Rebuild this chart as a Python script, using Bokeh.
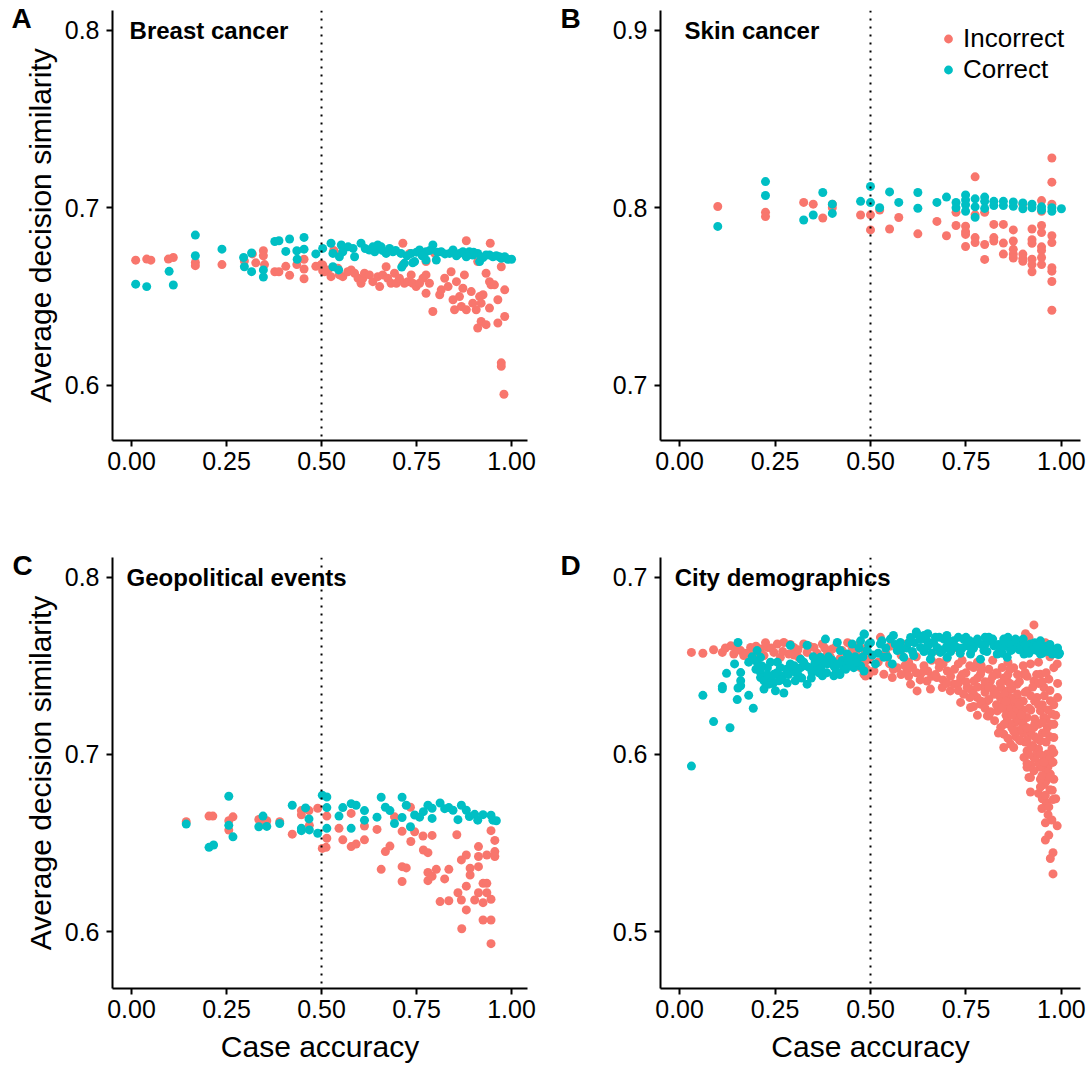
from bokeh.plotting import figure
from bokeh.layouts import gridplot
from bokeh.models import Span, Label, Legend, LegendItem, FixedTicker, Range1d, ColumnDataSource
from bokeh.embed import file_html
from bokeh.resources import INLINE

RED = "#F8766D"
TEAL = "#00BFC4"
FONT = "Liberation Sans"

x_ticks = [0.0, 0.25, 0.5, 0.75, 1.0]
x_tick_labels = ["0.00", "0.25", "0.50", "0.75", "1.00"]
panel_letters = ["A", "B", "C", "D"]
panel_titles = ["Breast cancer", "Skin cancer", "Geopolitical events", "City demographics"]
y_ticks = {"A": [0.6, 0.7, 0.8], "B": [0.7, 0.8, 0.9], "C": [0.6, 0.7, 0.8], "D": [0.5, 0.6, 0.7]}
y_tick_labels = {"A": ["0.6", "0.7", "0.8"], "B": ["0.7", "0.8", "0.9"],
                 "C": ["0.6", "0.7", "0.8"], "D": ["0.5", "0.6", "0.7"]}
series_names = ["Incorrect", "Correct"]
x_title = "Case accuracy"
y_title = "Average decision similarity"

# ---- Panel A: Breast cancer (case accuracy, average decision similarity) ----
A_incorrect = [
    (0.011, 0.6705), (0.040, 0.6711), (0.051, 0.6705), (0.097, 0.6711), (0.110, 0.672),
    (0.168, 0.6692), (0.168, 0.6674), (0.238, 0.668), (0.297, 0.670), (0.318, 0.674),
    (0.327, 0.669), (0.347, 0.6758), (0.347, 0.673), (0.350, 0.668), (0.377, 0.664),
    (0.388, 0.664), (0.406, 0.667), (0.416, 0.662), (0.435, 0.668), (0.454, 0.671),
    (0.454, 0.6655), (0.454, 0.660), (0.485, 0.667), (0.503, 0.6645), (0.499, 0.668),
    (0.532, 0.676), (0.714, 0.680), (0.881, 0.6814), (0.944, 0.680), (0.534, 0.6752),
    (0.732, 0.6743), (0.775, 0.6697), (0.798, 0.6743), (0.911, 0.6697), (0.973, 0.6668),
    (0.503, 0.6678), (0.508, 0.664), (0.517, 0.665), (0.525, 0.6612), (0.543, 0.666),
    (0.547, 0.6622), (0.556, 0.6612), (0.569, 0.664), (0.578, 0.665), (0.587, 0.6631),
    (0.596, 0.6603), (0.604, 0.6575), (0.609, 0.6603), (0.613, 0.6631), (0.626, 0.6622),
    (0.635, 0.6584), (0.648, 0.6612), (0.653, 0.6556), (0.661, 0.6622), (0.670, 0.6668),
    (0.674, 0.6603), (0.683, 0.6575), (0.692, 0.6631), (0.697, 0.6575), (0.705, 0.6603),
    (0.714, 0.6678), (0.718, 0.6575), (0.727, 0.6584), (0.736, 0.6622), (0.740, 0.6575),
    (0.749, 0.6556), (0.758, 0.6575), (0.767, 0.6603), (0.775, 0.6622), (0.775, 0.6519),
    (0.784, 0.6575), (0.793, 0.6416), (0.811, 0.651), (0.815, 0.6538), (0.824, 0.6603),
    (0.833, 0.6556), (0.841, 0.664), (0.846, 0.6482), (0.850, 0.6426), (0.855, 0.6584),
    (0.863, 0.650), (0.868, 0.6444), (0.872, 0.6547), (0.876, 0.6622), (0.881, 0.6426),
    (0.894, 0.6528), (0.898, 0.6463), (0.907, 0.6426), (0.916, 0.650), (0.920, 0.6463),
    (0.920, 0.636), (0.925, 0.651), (0.933, 0.6631), (0.933, 0.6342), (0.942, 0.6584),
    (0.946, 0.6566), (0.942, 0.6435), (0.955, 0.6566), (0.964, 0.6482), (0.964, 0.6351),
    (0.982, 0.6538), (0.982, 0.6388), (0.911, 0.6323), (0.973, 0.6127), (0.973, 0.6108),
    (0.980, 0.595),
]
A_correct = [
    (0.011, 0.657), (0.040, 0.6556), (0.099, 0.6642), (0.110, 0.6565), (0.168, 0.6846),
    (0.168, 0.673), (0.238, 0.6767), (0.295, 0.672), (0.297, 0.6668), (0.316, 0.664),
    (0.316, 0.6745), (0.347, 0.665), (0.347, 0.661), (0.377, 0.681), (0.388, 0.6814),
    (0.416, 0.6824), (0.406, 0.6754), (0.435, 0.6758), (0.454, 0.6833), (0.454, 0.6767),
    (0.436, 0.671), (0.485, 0.674), (0.503, 0.6771), (0.525, 0.680), (0.530, 0.6743),
    (0.547, 0.6724), (0.552, 0.679), (0.556, 0.6752), (0.583, 0.6771), (0.587, 0.6724),
    (0.604, 0.680), (0.626, 0.6762), (0.640, 0.6752), (0.648, 0.679), (0.657, 0.678),
    (0.670, 0.6743), (0.679, 0.6771), (0.688, 0.6752), (0.709, 0.6743), (0.718, 0.6687),
    (0.736, 0.6743), (0.745, 0.6697), (0.758, 0.6762), (0.775, 0.6752), (0.775, 0.6706),
    (0.793, 0.679), (0.802, 0.6706), (0.815, 0.6752), (0.837, 0.6743), (0.846, 0.6762),
    (0.863, 0.6743), (0.872, 0.6752), (0.881, 0.6724), (0.889, 0.6752), (0.898, 0.6734),
    (0.911, 0.6743), (0.916, 0.6697), (0.933, 0.6734), (0.942, 0.6734), (0.951, 0.6724),
    (0.968, 0.6724), (0.973, 0.6715), (0.982, 0.6724), (1.000, 0.671), (0.570, 0.678),
    (0.615, 0.677), (0.635, 0.678), (0.660, 0.676), (0.695, 0.676), (0.725, 0.673),
    (0.750, 0.675), (0.765, 0.673), (0.785, 0.676), (0.805, 0.675), (0.825, 0.674),
    (0.855, 0.673), (0.900, 0.675), (0.925, 0.672), (0.960, 0.673), (0.990, 0.671),
    (0.530, 0.6668), (0.545, 0.665), (0.711, 0.6666), (0.740, 0.669),
]

# ---- Panel B: Skin cancer ----
B_incorrect = [
    (0.100, 0.8007), (0.225, 0.7974), (0.225, 0.795), (0.325, 0.803), (0.350, 0.802),
    (0.375, 0.7942), (0.400, 0.802), (0.400, 0.800), (0.474, 0.7959), (0.500, 0.796),
    (0.500, 0.7875), (0.524, 0.7987), (0.550, 0.788), (0.574, 0.7945), (0.624, 0.7853),
    (0.674, 0.7923), (0.699, 0.7842), (0.724, 0.7974), (0.724, 0.790), (0.749, 0.7896),
    (0.749, 0.7865), (0.749, 0.785), (0.749, 0.7782), (0.774, 0.8174), (0.774, 0.796),
    (0.774, 0.7832), (0.774, 0.7804), (0.799, 0.7974), (0.799, 0.7793), (0.799, 0.7709),
    (0.823, 0.7906), (0.823, 0.7832), (0.823, 0.7813), (0.848, 0.7906), (0.848, 0.7801),
    (0.848, 0.7739), (0.874, 0.7875), (0.874, 0.7813), (0.874, 0.7766), (0.874, 0.7739),
    (0.874, 0.7717), (0.899, 0.7739), (0.899, 0.7715), (0.899, 0.7699), (0.899, 0.802),
    (0.923, 0.788), (0.923, 0.782), (0.923, 0.780), (0.923, 0.771), (0.923, 0.768),
    (0.923, 0.764), (0.948, 0.790), (0.948, 0.786), (0.948, 0.778), (0.948, 0.776),
    (0.948, 0.772), (0.948, 0.768), (0.948, 0.804), (0.948, 0.798), (0.975, 0.828),
    (0.975, 0.8144), (0.975, 0.802), (0.975, 0.7842), (0.975, 0.7804), (0.975, 0.7662),
    (0.975, 0.7643), (0.975, 0.7585), (0.975, 0.7423),
]
B_correct = [
    (0.100, 0.7895), (0.225, 0.8147), (0.225, 0.8069), (0.325, 0.7931), (0.350, 0.7959),
    (0.375, 0.8086), (0.400, 0.802), (0.400, 0.7968), (0.474, 0.8036), (0.500, 0.812),
    (0.500, 0.8029), (0.524, 0.800), (0.550, 0.8089), (0.574, 0.803), (0.624, 0.8086),
    (0.624, 0.7997), (0.674, 0.803), (0.699, 0.806), (0.724, 0.803), (0.724, 0.800),
    (0.749, 0.8072), (0.749, 0.8044), (0.749, 0.8017), (0.749, 0.798), (0.774, 0.805),
    (0.774, 0.8005), (0.774, 0.7946), (0.799, 0.806), (0.799, 0.8036), (0.799, 0.7996),
    (0.823, 0.8036), (0.823, 0.8012), (0.848, 0.8036), (0.848, 0.8012), (0.874, 0.8032),
    (0.874, 0.8008), (0.899, 0.8027), (0.899, 0.7994), (0.923, 0.802), (0.923, 0.800),
    (0.948, 0.8005), (0.948, 0.7987), (0.975, 0.800), (0.975, 0.798), (1.000, 0.7994),
]

# ---- Panel C: Geopolitical events ----
C_incorrect = [
    (0.144, 0.662), (0.204, 0.6652), (0.214, 0.6652), (0.256, 0.6626), (0.256, 0.6573),
    (0.267, 0.6648), (0.335, 0.6633), (0.346, 0.6607), (0.356, 0.6626), (0.390, 0.662),
    (0.423, 0.655), (0.447, 0.6683), (0.447, 0.6659), (0.467, 0.6683), (0.468, 0.660),
    (0.490, 0.6696), (0.502, 0.647), (0.512, 0.6476), (0.514, 0.6652), (0.514, 0.6527),
    (0.546, 0.6583), (0.556, 0.6518), (0.578, 0.6667), (0.578, 0.648), (0.591, 0.6494),
    (0.613, 0.6596), (0.613, 0.6518), (0.646, 0.6577), (0.657, 0.6352), (0.668, 0.6452),
    (0.680, 0.6483), (0.692, 0.6648), (0.712, 0.6566), (0.712, 0.6367), (0.712, 0.6283),
    (0.723, 0.636), (0.734, 0.6702), (0.735, 0.6509), (0.745, 0.6564), (0.767, 0.654),
    (0.768, 0.6461), (0.780, 0.6446), (0.780, 0.6334), (0.780, 0.6288), (0.791, 0.6543),
    (0.791, 0.6313), (0.802, 0.6352), (0.812, 0.617), (0.824, 0.6298), (0.835, 0.6352),
    (0.835, 0.6175), (0.856, 0.6547), (0.859, 0.622), (0.868, 0.6405), (0.868, 0.6179),
    (0.869, 0.6017), (0.881, 0.6433), (0.881, 0.6257), (0.881, 0.6123), (0.891, 0.6358),
    (0.891, 0.632), (0.903, 0.6179), (0.913, 0.648), (0.913, 0.6424), (0.913, 0.6367),
    (0.913, 0.622), (0.925, 0.6273), (0.925, 0.6164), (0.925, 0.6066), (0.935, 0.6433),
    (0.935, 0.6273), (0.935, 0.622), (0.946, 0.657), (0.946, 0.6183), (0.946, 0.6066),
    (0.946, 0.5933), (0.956, 0.6515), (0.956, 0.6452), (0.956, 0.6424),
]
C_correct = [
    (0.144, 0.6607), (0.204, 0.6476), (0.216, 0.6489), (0.256, 0.6764), (0.256, 0.660),
    (0.267, 0.6535), (0.335, 0.6592), (0.346, 0.6652), (0.356, 0.6594), (0.390, 0.661),
    (0.423, 0.6713), (0.447, 0.6583), (0.447, 0.657), (0.458, 0.6698), (0.467, 0.6636),
    (0.468, 0.6574), (0.490, 0.6555), (0.502, 0.677), (0.514, 0.676), (0.514, 0.670),
    (0.514, 0.6583), (0.546, 0.6652), (0.556, 0.670), (0.578, 0.6722), (0.578, 0.6583),
    (0.591, 0.6713), (0.613, 0.6683), (0.613, 0.6629), (0.646, 0.6646), (0.657, 0.6758),
    (0.668, 0.6702), (0.680, 0.6683), (0.692, 0.661), (0.712, 0.6758), (0.712, 0.6644),
    (0.723, 0.6713), (0.734, 0.6592), (0.745, 0.6658), (0.758, 0.6646), (0.768, 0.6677),
    (0.780, 0.6713), (0.791, 0.6639), (0.791, 0.6696), (0.812, 0.6726), (0.824, 0.6694),
    (0.835, 0.670), (0.846, 0.6685), (0.859, 0.6632), (0.868, 0.6713), (0.881, 0.6685),
    (0.889, 0.665), (0.903, 0.6662), (0.911, 0.6629), (0.925, 0.666), (0.946, 0.6657),
    (0.951, 0.6629), (0.960, 0.6626),
]

# ---- Panel D: City demographics ----
D_incorrect = [
    (0.031, 0.6575), (0.061, 0.657), (0.089, 0.659), (0.112, 0.6575), (0.134, 0.6612),
    (0.142, 0.6566), (0.160, 0.6585), (0.168, 0.6557), (0.186, 0.6603), (0.194, 0.6566),
    (0.212, 0.6594), (0.221, 0.6557), (0.230, 0.6603), (0.247, 0.6575), (0.256, 0.6622),
    (0.264, 0.6547), (0.273, 0.6631), (0.286, 0.6566), (0.299, 0.6603), (0.312, 0.6547),
    (0.325, 0.6622), (0.334, 0.6575), (0.352, 0.6603), (0.365, 0.6529), (0.374, 0.6622),
    (0.387, 0.6566), (0.400, 0.6594), (0.413, 0.652), (0.426, 0.6585), (0.435, 0.6529),
    (0.452, 0.6603), (0.465, 0.6557), (0.474, 0.651), (0.483, 0.6452), (0.491, 0.6537),
    (0.483, 0.6594), (0.120, 0.660), (0.150, 0.659), (0.175, 0.657), (0.200, 0.661),
    (0.240, 0.660), (0.270, 0.658), (0.290, 0.662), (0.310, 0.659), (0.340, 0.661),
    (0.360, 0.657), (0.380, 0.660), (0.395, 0.655), (0.410, 0.661), (0.440, 0.663),
    (0.460, 0.657), (0.470, 0.662), (0.490, 0.648), (0.495, 0.645), (0.485, 0.652),
    (0.420, 0.654), (0.300, 0.656), (0.225, 0.663),
    (0.928, 0.673), (0.906, 0.668), (0.915, 0.666), (0.958, 0.663), (0.797, 0.661),
    (0.718, 0.660), (0.552, 0.661), (0.591, 0.662), (0.526, 0.666), (0.674, 0.6585),
    (0.989, 0.651),
    (0.474, 0.6489), (0.487, 0.6442), (0.509, 0.647), (0.535, 0.6452), (0.557, 0.6433),
    (0.570, 0.6489), (0.596, 0.647), (0.605, 0.6396), (0.622, 0.6358), (0.631, 0.6452),
    (0.648, 0.6414), (0.657, 0.6368), (0.674, 0.6433), (0.688, 0.6377), (0.701, 0.647),
    (0.709, 0.6358), (0.718, 0.6396), (0.736, 0.6433), (0.744, 0.6339), (0.753, 0.6377),
    (0.771, 0.6414), (0.779, 0.6321), (0.788, 0.6452), (0.797, 0.6377), (0.806, 0.6302),
    (0.814, 0.6414), (0.823, 0.6339), (0.832, 0.6452), (0.841, 0.6377), (0.849, 0.6283),
    (0.858, 0.6414), (0.867, 0.6321), (0.875, 0.6489), (0.884, 0.6396), (0.893, 0.6302),
    (0.902, 0.6452), (0.910, 0.6358), (0.919, 0.651), (0.928, 0.6414), (0.936, 0.6321),
    (0.945, 0.6452), (0.954, 0.6377), (0.967, 0.6424), (0.980, 0.6489),
    (0.736, 0.6293), (0.762, 0.6264), (0.788, 0.6283), (0.810, 0.6217), (0.832, 0.6245),
    (0.806, 0.6217), (0.841, 0.6152), (0.858, 0.6189), (0.849, 0.6114), (0.875, 0.6227),
    (0.884, 0.6133), (0.893, 0.6077), (0.867, 0.6058), (0.849, 0.6039), (0.875, 0.6039),
    (0.910, 0.6208), (0.919, 0.6114), (0.910, 0.602), (0.928, 0.6152), (0.928, 0.5983),
    (0.945, 0.6245), (0.945, 0.6077), (0.954, 0.6208), (0.963, 0.6152), (0.963, 0.6002),
    (0.971, 0.6302), (0.976, 0.6227), (0.980, 0.6095), (0.910, 0.5927), (0.928, 0.5908),
    (0.945, 0.5927), (0.954, 0.587), (0.971, 0.5889), (0.976, 0.5955), (0.936, 0.602),
    (0.902, 0.5983), (0.915, 0.587),
    (0.620, 0.646), (0.660, 0.644), (0.690, 0.642), (0.730, 0.640), (0.760, 0.637),
    (0.780, 0.643), (0.800, 0.635), (0.820, 0.637), (0.840, 0.632), (0.860, 0.636),
    (0.870, 0.628), (0.880, 0.625), (0.890, 0.620), (0.900, 0.630), (0.920, 0.625),
    (0.930, 0.630), (0.940, 0.617), (0.950, 0.612), (0.960, 0.620), (0.970, 0.610),
    (0.975, 0.603), (0.980, 0.617), (0.955, 0.598), (0.965, 0.593), (0.940, 0.595),
    (0.925, 0.605), (0.900, 0.612), (0.880, 0.618), (0.860, 0.626), (0.850, 0.643),
    (0.830, 0.646), (0.810, 0.648), (0.770, 0.649), (0.750, 0.646), (0.720, 0.648),
    (0.680, 0.649), (0.640, 0.650), (0.600, 0.652), (0.550, 0.651), (0.520, 0.652),
    (0.500, 0.655), (0.540, 0.657), (0.580, 0.656), (0.620, 0.655), (0.660, 0.653),
    (0.700, 0.654), (0.740, 0.653), (0.780, 0.652), (0.820, 0.653), (0.860, 0.652),
    (0.900, 0.650), (0.940, 0.652), (0.970, 0.655),
    (0.560, 0.648), (0.580, 0.645), (0.610, 0.649), (0.630, 0.642), (0.650, 0.647),
    (0.670, 0.645), (0.690, 0.651), (0.700, 0.640), (0.710, 0.644), (0.730, 0.636),
    (0.740, 0.645), (0.750, 0.641), (0.760, 0.650), (0.770, 0.634), (0.780, 0.638),
    (0.790, 0.647), (0.800, 0.641), (0.810, 0.631), (0.820, 0.644), (0.830, 0.628),
    (0.840, 0.640), (0.850, 0.634), (0.860, 0.645), (0.870, 0.637), (0.880, 0.631),
    (0.890, 0.641), (0.900, 0.625), (0.910, 0.644), (0.920, 0.633), (0.930, 0.620),
    (0.940, 0.640), (0.950, 0.628), (0.960, 0.646), (0.970, 0.636), (0.980, 0.628),
    (0.990, 0.640), (0.870, 0.615), (0.880, 0.610), (0.890, 0.628), (0.900, 0.617),
    (0.910, 0.608), (0.920, 0.613), (0.930, 0.610), (0.940, 0.603), (0.950, 0.618),
    (0.960, 0.607), (0.970, 0.598), (0.980, 0.601), (0.930, 0.598), (0.950, 0.593),
    (0.960, 0.585), (0.970, 0.580), (0.940, 0.578), (0.960, 0.573), (0.980, 0.586),
    (0.920, 0.594), (0.915, 0.600), (0.905, 0.607), (0.895, 0.614), (0.885, 0.620),
    (0.865, 0.617), (0.855, 0.622),
    (0.760, 0.632), (0.770, 0.627), (0.780, 0.622), (0.790, 0.630), (0.800, 0.626),
    (0.810, 0.638), (0.815, 0.624), (0.825, 0.619), (0.830, 0.634), (0.835, 0.612),
    (0.845, 0.626), (0.850, 0.617), (0.855, 0.630), (0.860, 0.609), (0.865, 0.640),
    (0.870, 0.622), (0.875, 0.613), (0.885, 0.634), (0.890, 0.608), (0.895, 0.622),
    (0.905, 0.635), (0.910, 0.615), (0.915, 0.626), (0.920, 0.604), (0.925, 0.638),
    (0.930, 0.617), (0.935, 0.609), (0.940, 0.628), (0.945, 0.600), (0.955, 0.633),
    (0.960, 0.612), (0.965, 0.625), (0.975, 0.617), (0.985, 0.622), (0.990, 0.632),
    (0.950, 0.641), (0.935, 0.645), (0.905, 0.646), (0.885, 0.645), (0.865, 0.648),
    (0.845, 0.649), (0.790, 0.650), (0.730, 0.651), (0.680, 0.652), (0.640, 0.647),
    (0.600, 0.644), (0.590, 0.650), (0.955, 0.583), (0.965, 0.566), (0.975, 0.563),
    (0.950, 0.575), (0.985, 0.575), (0.960, 0.590), (0.945, 0.586),
    (0.910, 0.5948), (0.954, 0.5956), (0.978, 0.5956), (0.919, 0.5869), (0.949, 0.588),
    (0.971, 0.5873), (0.919, 0.5788), (0.945, 0.5816), (0.976, 0.5798), (0.958, 0.577),
    (0.978, 0.5745), (0.949, 0.5695), (0.967, 0.5704), (0.958, 0.5614), (0.989, 0.5597),
    (0.967, 0.5545), (0.958, 0.5517), (0.978, 0.5446), (0.971, 0.5413), (0.978, 0.5326),
]
D_correct = [
    (0.031, 0.5934), (0.061, 0.6333), (0.089, 0.6185), (0.132, 0.615), (0.112, 0.6382),
    (0.112, 0.637), (0.123, 0.6457), (0.144, 0.651), (0.160, 0.6461), (0.160, 0.6415),
    (0.160, 0.6387), (0.153, 0.6374), (0.151, 0.6309), (0.181, 0.6333), (0.193, 0.626),
    (0.153, 0.6631), (0.181, 0.652), (0.203, 0.6585), (0.203, 0.652), (0.212, 0.6461),
    (0.212, 0.6433), (0.221, 0.6415), (0.221, 0.6368), (0.230, 0.6489), (0.234, 0.6396),
    (0.247, 0.6452), (0.251, 0.6359), (0.256, 0.652), (0.260, 0.6415), (0.273, 0.6346),
    (0.282, 0.6402), (0.290, 0.6615), (0.295, 0.647), (0.303, 0.6415), (0.317, 0.6489),
    (0.334, 0.6615), (0.334, 0.6396), (0.347, 0.6461), (0.360, 0.651), (0.374, 0.6443),
    (0.382, 0.665), (0.387, 0.651), (0.404, 0.6443), (0.413, 0.6631), (0.421, 0.6585),
    (0.430, 0.6489), (0.439, 0.6566), (0.452, 0.6622), (0.474, 0.664), (0.484, 0.6677),
    (0.491, 0.6585), (0.212, 0.6547), (0.238, 0.652), (0.264, 0.6489), (0.317, 0.6537),
    (0.352, 0.6489), (0.369, 0.6547), (0.404, 0.6498), (0.426, 0.6529), (0.456, 0.6489),
    (0.474, 0.6498), (0.483, 0.647), (0.240, 0.643), (0.270, 0.644), (0.290, 0.651),
    (0.310, 0.645), (0.330, 0.650), (0.350, 0.655), (0.370, 0.649), (0.390, 0.655),
    (0.410, 0.647), (0.440, 0.652), (0.460, 0.655), (0.470, 0.660), (0.495, 0.662),
    (0.200, 0.648), (0.190, 0.655), (0.215, 0.650), (0.230, 0.645), (0.245, 0.640),
    (0.255, 0.646), (0.265, 0.642), (0.280, 0.648), (0.285, 0.645), (0.300, 0.650),
    (0.305, 0.646), (0.320, 0.643), (0.325, 0.652), (0.340, 0.649), (0.345, 0.643),
    (0.355, 0.652), (0.365, 0.646), (0.380, 0.652), (0.385, 0.646), (0.400, 0.653),
    (0.415, 0.651), (0.420, 0.645), (0.435, 0.648), (0.445, 0.655), (0.450, 0.651),
    (0.465, 0.652), (0.480, 0.655),
    (0.483, 0.6678), (0.491, 0.6585), (0.513, 0.651), (0.526, 0.6622), (0.535, 0.6547),
    (0.552, 0.665), (0.557, 0.651), (0.570, 0.6585), (0.578, 0.6631), (0.587, 0.6547),
    (0.605, 0.6659), (0.613, 0.6557), (0.622, 0.6678), (0.631, 0.6603), (0.648, 0.664),
    (0.657, 0.6537), (0.674, 0.6603), (0.683, 0.6575), (0.692, 0.665), (0.701, 0.6547),
    (0.718, 0.664), (0.727, 0.6603), (0.744, 0.665), (0.753, 0.6612), (0.762, 0.6566),
    (0.775, 0.6631), (0.788, 0.6537), (0.797, 0.6585), (0.814, 0.664), (0.823, 0.6612),
    (0.832, 0.6566), (0.849, 0.665), (0.858, 0.6547), (0.867, 0.6585), (0.875, 0.664),
    (0.884, 0.6622), (0.902, 0.6566), (0.910, 0.6594), (0.919, 0.6622), (0.936, 0.6585),
    (0.945, 0.6566), (0.954, 0.6603), (0.971, 0.6585), (0.976, 0.6566), (0.989, 0.6566),
    (0.993, 0.6563), (0.500, 0.663), (0.520, 0.657), (0.540, 0.660), (0.565, 0.662),
    (0.595, 0.660), (0.615, 0.663), (0.640, 0.658), (0.665, 0.663), (0.700, 0.661),
    (0.710, 0.658), (0.735, 0.657), (0.770, 0.660), (0.780, 0.665), (0.800, 0.662),
    (0.840, 0.659), (0.855, 0.661), (0.890, 0.659), (0.895, 0.664), (0.925, 0.659),
    (0.930, 0.663), (0.950, 0.657), (0.960, 0.661), (0.980, 0.659), (0.985, 0.658),
    (0.995, 0.657), (0.620, 0.669), (0.640, 0.667), (0.680, 0.666), (0.730, 0.666),
    (0.760, 0.664), (0.810, 0.666), (0.860, 0.666), (0.900, 0.665), (0.940, 0.662),
    (0.505, 0.656), (0.530, 0.664), (0.545, 0.655), (0.560, 0.667), (0.580, 0.659),
    (0.600, 0.663), (0.610, 0.658), (0.630, 0.665), (0.650, 0.661), (0.660, 0.657),
    (0.670, 0.666), (0.690, 0.659), (0.705, 0.664), (0.720, 0.661), (0.740, 0.660),
    (0.750, 0.664), (0.765, 0.659), (0.790, 0.662), (0.805, 0.658), (0.820, 0.665),
    (0.835, 0.662), (0.845, 0.657), (0.865, 0.662), (0.870, 0.659), (0.880, 0.665),
    (0.905, 0.662), (0.915, 0.657), (0.935, 0.661), (0.945, 0.664), (0.965, 0.658),
    (0.970, 0.662), (0.990, 0.660), (0.650, 0.668), (0.700, 0.667), (0.750, 0.666),
    (0.800, 0.666), (0.850, 0.664), (0.950, 0.660),
]

panel_data = {
    "A": (A_incorrect, A_correct),
    "B": (B_incorrect, B_correct),
    "C": (C_incorrect, C_correct),
    "D": (D_incorrect, D_correct),
}


def src(points):
    return ColumnDataSource(data=dict(x=[p[0] for p in points], y=[p[1] for p in points]))


def make_panel(key, idx, width, height, left, right, top, bottom, x_max, y_lo, y_hi,
               show_ylabel, show_xlabel, title_x, letter_xy, legend=False):
    p = figure(width=width, height=height, output_backend="svg", toolbar_location=None,
               x_range=Range1d(-0.05, x_max), y_range=Range1d(y_lo, y_hi),
               min_border_left=left, min_border_right=right,
               min_border_top=top, min_border_bottom=bottom)
    p.background_fill_color = "white"
    p.border_fill_color = "white"
    p.outline_line_color = None
    p.xgrid.visible = False
    p.ygrid.visible = False

    inc, cor = panel_data[key]
    r_inc = p.scatter("x", "y", source=src(inc), size=9, fill_color=RED, line_color=None)
    r_cor = p.scatter("x", "y", source=src(cor), size=9, fill_color=TEAL, line_color=None)

    p.add_layout(Span(location=0.5, dimension="height", line_color="black",
                      line_dash="2 6", line_width=2))

    p.xaxis.ticker = FixedTicker(ticks=x_ticks)
    p.xaxis.major_label_overrides = {t: l for t, l in zip(x_ticks, x_tick_labels)}
    p.yaxis.ticker = FixedTicker(ticks=y_ticks[key])
    p.yaxis.major_label_overrides = {t: l for t, l in zip(y_ticks[key], y_tick_labels[key])}
    for ax in (p.xaxis[0], p.yaxis[0]):
        ax.axis_line_width = 2
        ax.axis_line_color = "black"
        ax.major_tick_line_width = 2
        ax.major_tick_line_color = "black"
        ax.major_tick_out = 6
        ax.major_tick_in = 0
        ax.minor_tick_line_color = None
        ax.major_label_text_font = FONT
        ax.major_label_text_font_size = "25px"
        ax.major_label_text_color = "black"
        ax.axis_label_text_font = FONT
        ax.axis_label_text_font_size = "30px"
        ax.axis_label_text_font_style = "normal"
        ax.axis_label_text_color = "black"
    p.xaxis.major_label_standoff = 5
    p.yaxis.major_label_standoff = 7
    if show_ylabel:
        p.yaxis.axis_label = y_title
        p.yaxis.axis_label_standoff = 5
    if show_xlabel:
        p.xaxis.axis_label = x_title
        p.xaxis.axis_label_standoff = 9

    # panel letter, placed in the left side panel so that it is not clipped to the frame
    p.add_layout(Label(x=letter_xy[0], y=letter_xy[1], x_units="canvas", y_units="canvas",
                       text=panel_letters[idx], text_font=FONT, text_font_style="bold",
                       text_font_size="28px", text_baseline="alphabetic", text_align="left",
                       text_color="black"), "left")
    p.add_layout(Label(x=title_x, y=y_ticks[key][-1], y_offset=0, text=panel_titles[idx],
                       text_font=FONT, text_font_style="bold", text_font_size="24px",
                       text_baseline="alphabetic", text_align="left", text_color="black"))

    if legend:
        lg = Legend(items=[LegendItem(label=series_names[0], renderers=[r_inc]),
                           LegendItem(label=series_names[1], renderers=[r_cor])],
                    location=(277, 355), orientation="vertical")
        lg.label_text_font = FONT
        lg.label_text_font_size = "26px"
        lg.label_text_color = "black"
        lg.glyph_width = 22
        lg.glyph_height = 29
        lg.label_height = 29
        lg.label_standoff = 4
        lg.spacing = 0
        lg.padding = 0
        lg.margin = 0
        lg.border_line_color = None
        lg.background_fill_alpha = 0
        p.add_layout(lg)
    return p


pA = make_panel("A", 0, 545, 540, 112, 18, 10, 100, 1.042, 0.569, 0.811, True, False, -0.005, (11, 18))
pB = make_panel("B", 1, 546, 540, 115, 11, 10, 100, 1.05, 0.669, 0.911, False, False, 0.013, (15, 18), legend=True)
pC = make_panel("C", 2, 545, 534, 112, 18, 17, 86, 1.042, 0.568, 0.811, True, True, -0.013, (12, 25))
pD = make_panel("D", 3, 546, 534, 115, 11, 17, 86, 1.05, 0.468, 0.711, False, True, -0.013, (15, 25))

grid = gridplot([[pA, pB], [pC, pD]], toolbar_location=None)

open("out.html", "w").write(file_html(grid, INLINE))
